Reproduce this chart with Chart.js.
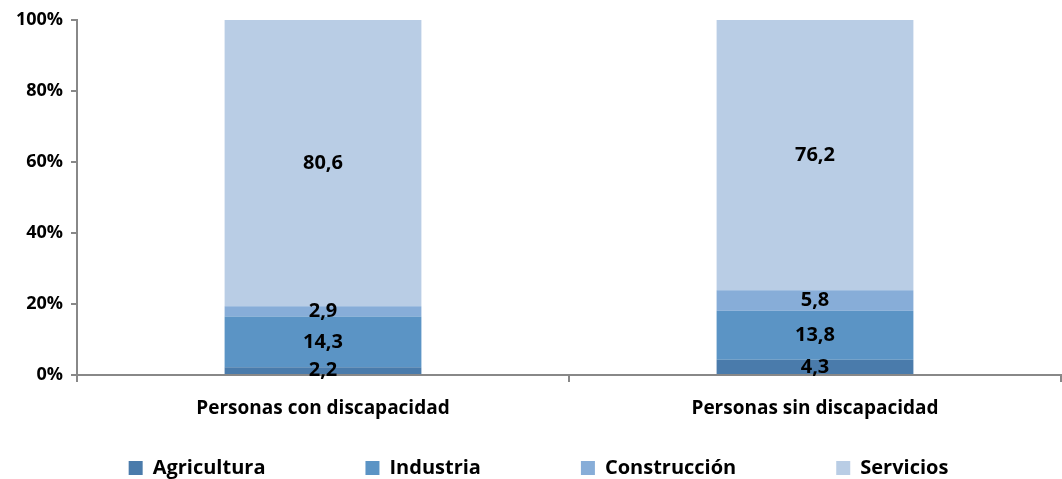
<!DOCTYPE html>
<html>
<head>
<meta charset="utf-8">
<script src="https://cdn.jsdelivr.net/npm/chart.js@4"></script>
<style>
  html, body { margin: 0; padding: 0; background: #fff; }
  #wrap { width: 1062px; height: 479px; }
</style>
</head>
<body>
<div id="wrap"><canvas id="chart"></canvas></div>
<script>
const categories = ["Personas con discapacidad", "Personas sin discapacidad"];
const agricultura = [2.2, 4.3];
const industria = [14.3, 13.8];
const construccion = [2.9, 5.8];
const servicios = [80.6, 76.2];
const yTicks = [0, 20, 40, 60, 80, 100];

const fontFamily = "'Open Sans', sans-serif";

// draw values centred on each segment
const segmentLabels = {
    id: 'segmentLabels',
    afterDatasetsDraw(chart) {
        const ctx = chart.ctx;
        ctx.save();
        ctx.font = "bold 20px " + fontFamily;
        ctx.fillStyle = '#000';
        ctx.textAlign = 'center';
        ctx.textBaseline = 'middle';
        chart.data.datasets.forEach((ds, i) => {
            chart.getDatasetMeta(i).data.forEach((bar, j) => {
                const y = (bar.y + bar.base) / 2;
                ctx.fillText(ds.data[j].toFixed(1).replace('.', ','), bar.x, y);
            });
        });
        ctx.restore();
    }
};

new Chart(document.getElementById('chart'), {
    type: 'bar',
    data: {
        labels: categories,
        datasets: [
            { label: 'Agricultura', data: agricultura, backgroundColor: '#4a7bab' },
            { label: 'Industria', data: industria, backgroundColor: '#5b94c5' },
            { label: 'Construcción', data: construccion, backgroundColor: '#87add8' },
            { label: 'Servicios', data: servicios, backgroundColor: '#b9cde5' }
        ]
    },
    options: {
        responsive: true,
        maintainAspectRatio: false,
        animation: false,
        layout: { padding: { top: 20, right: 1, left: 16, bottom: -9 } },
        datasets: { bar: { categoryPercentage: 0.4, barPercentage: 1 } },
        scales: {
            x: {
                stacked: true,
                afterFit: axis => { axis.height = 83; },
                grid: {
                    offset: true,
                    drawOnChartArea: false,
                    color: '#888',
                    lineWidth: 2,
                    tickLength: 7
                },
                border: { color: '#888', width: 2 },
                ticks: {
                    color: '#000',
                    padding: 15,
                    font: { family: fontFamily, size: 19, weight: 'bold' }
                }
            },
            y: {
                stacked: true,
                min: 0,
                max: 100,
                afterFit: axis => { axis.width = 61; },
                afterBuildTicks: axis => { axis.ticks = yTicks.map(v => ({ value: v })); },
                grid: {
                    drawOnChartArea: false,
                    color: '#888',
                    lineWidth: 2,
                    tickLength: 6
                },
                border: { color: '#888', width: 2 },
                ticks: {
                    color: '#000',
                    padding: 8,
                    callback: v => v + '%',
                    font: { family: fontFamily, size: 18, weight: 'bold' }
                }
            }
        },
        plugins: {
            legend: {
                position: 'bottom',
                labels: {
                    color: '#000',
                    boxWidth: 14,
                    boxHeight: 14,
                    padding: 0,
                    font: { family: fontFamily, size: 20, weight: 'bold' },
                    // widen the gap between entries without growing the legend height
                    generateLabels: chart => {
                        const items = Chart.defaults.plugins.legend.labels.generateLabels(chart);
                        items.forEach((it, i) => {
                            if (i < items.length - 1) it.text += '\u2002'.repeat(10);
                        });
                        return items;
                    }
                }
            },
            tooltip: { enabled: false }
        }
    },
    plugins: [segmentLabels]
});
</script>
</body>
</html>
